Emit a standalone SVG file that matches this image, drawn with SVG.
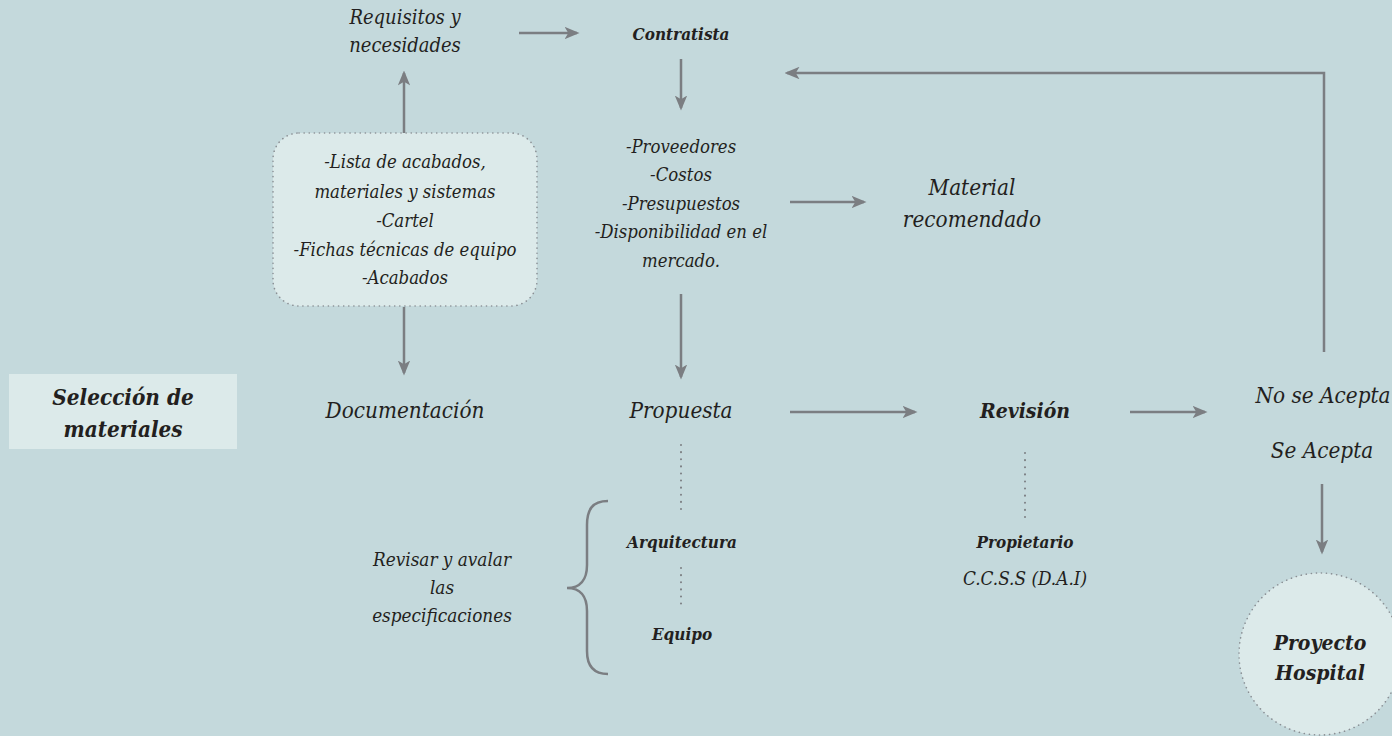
<svg xmlns="http://www.w3.org/2000/svg" width="1392" height="736" viewBox="0 0 1392 736">
  <style>
    text { font-family: "DejaVu Serif Condensed", "DejaVu Serif", serif; font-stretch: condensed; font-style: italic; fill: #231f20; text-anchor: middle; }
    .b { font-weight: bold; }
    .s17 { font-size: 17px; }
    .s18 { font-size: 18.4px; }
    .s19 { font-size: 18.8px; }
    .s20 { font-size: 20px; }
    .s21 { font-size: 21px; }
    .s22 { font-size: 22.3px; }
    .arrow { stroke: #7b7e82; stroke-width: 2.5; fill: none; marker-end: url(#head); }
    .line { stroke: #7b7e82; stroke-width: 2.5; fill: none; }
    .dots { stroke: #7b7e82; stroke-width: 2; stroke-dasharray: 0.1 7; stroke-linecap: round; fill: none; }
    .panel { fill: #dceaea; stroke: #8a8f94; stroke-width: 1.6; stroke-dasharray: 0.1 5; stroke-linecap: round; }
  </style>
  <defs>
    <marker id="head" viewBox="0 0 12 10" refX="10" refY="5" markerWidth="6" markerHeight="5" orient="auto" markerUnits="strokeWidth">
      <path d="M0,0 L12,5 L0,10 L3,5 z" fill="#7b7e82"/>
    </marker>
  </defs>

  <rect width="1392" height="736" fill="#c4d9dc"/>

  <!-- connectors -->
  <g id="connectors">
    <line class="arrow" x1="519" y1="33" x2="577" y2="33"/>
    <line class="arrow" x1="681" y1="59" x2="681" y2="108"/>
    <line class="arrow" x1="404" y1="133" x2="404" y2="73"/>
    <line class="arrow" x1="404" y1="307" x2="404" y2="373"/>
    <line class="arrow" x1="790" y1="202" x2="864" y2="202"/>
    <line class="arrow" x1="681" y1="294" x2="681" y2="377"/>
    <line class="arrow" x1="790" y1="412" x2="915" y2="412"/>
    <line class="arrow" x1="1130" y1="412" x2="1205" y2="412"/>
    <line class="arrow" x1="1322" y1="484" x2="1322" y2="552"/>
    <path class="arrow" d="M1324,352 V73 H787"/>
    <line class="dots" x1="681" y1="445" x2="681" y2="515"/>
    <line class="dots" x1="681" y1="568" x2="681" y2="604"/>
    <line class="dots" x1="1025" y1="453" x2="1025" y2="517"/>
    <path class="line" d="M608,501 C592,501 587,510 587,525 V565 C587,580 580,588 567,588 C580,588 587,596 587,611 V651 C587,666 594,674 608,674"/>
  </g>

  <g id="selection">
    <rect x="9" y="374" width="228" height="75" fill="#dceaea"/>
    <text class="s22 b" x="123" y="405">Selección de</text>
    <text class="s22 b" x="123" y="437">materiales</text>
  </g>

  <g id="requisitos">
    <text class="s20" x="405" y="24">Requisitos y</text>
    <text class="s20" x="405" y="52">necesidades</text>
  </g>

  <g id="inputs">
    <rect class="panel" x="273" y="133" width="264" height="173" rx="26"/>
    <text class="s18" x="405" y="168">-Lista de acabados,</text>
    <text class="s18" x="405" y="198">materiales y sistemas</text>
    <text class="s18" x="405" y="227">-Cartel</text>
    <text class="s18" x="405" y="256">-Fichas técnicas de equipo</text>
    <text class="s18" x="405" y="284">-Acabados</text>
  </g>

  <g id="documentacion">
    <text class="s22" x="405" y="418">Documentación</text>
  </g>

  <g id="contratista">
    <text class="s17 b" x="681" y="40">Contratista</text>
  </g>

  <g id="factores">
    <text class="s18" x="681" y="153">-Proveedores</text>
    <text class="s18" x="681" y="181">-Costos</text>
    <text class="s18" x="681" y="210">-Presupuestos</text>
    <text class="s18" x="681" y="238">-Disponibilidad en el</text>
    <text class="s18" x="681" y="267">mercado.</text>
  </g>

  <g id="material">
    <text class="s22" x="972" y="195">Material</text>
    <text class="s22" x="972" y="227">recomendado</text>
  </g>

  <g id="propuesta">
    <text class="s22" x="681" y="418">Propuesta</text>
  </g>

  <g id="arquitectura">
    <text class="s17 b" x="682" y="548">Arquitectura</text>
  </g>

  <g id="equipo">
    <text class="s17 b" x="682" y="640">Equipo</text>
  </g>

  <g id="revisar">
    <text class="s19" x="442" y="566">Revisar y avalar</text>
    <text class="s19" x="442" y="594">las</text>
    <text class="s19" x="442" y="622">especificaciones</text>
  </g>

  <g id="revision">
    <text class="s21 b" x="1025" y="418">Revisión</text>
  </g>

  <g id="propietario">
    <text class="s17 b" x="1025" y="548">Propietario</text>
    <text class="s19" x="1025" y="585">C.C.S.S (D.A.I)</text>
  </g>

  <g id="decision">
    <text class="s22" x="1323" y="403">No se Acepta</text>
    <text class="s22" x="1322" y="458">Se Acepta</text>
  </g>

  <g id="proyecto">
    <circle class="panel" cx="1320" cy="654" r="81"/>
    <text class="s21 b" x="1320" y="650">Proyecto</text>
    <text class="s21 b" x="1320" y="680">Hospital</text>
  </g>
</svg>
